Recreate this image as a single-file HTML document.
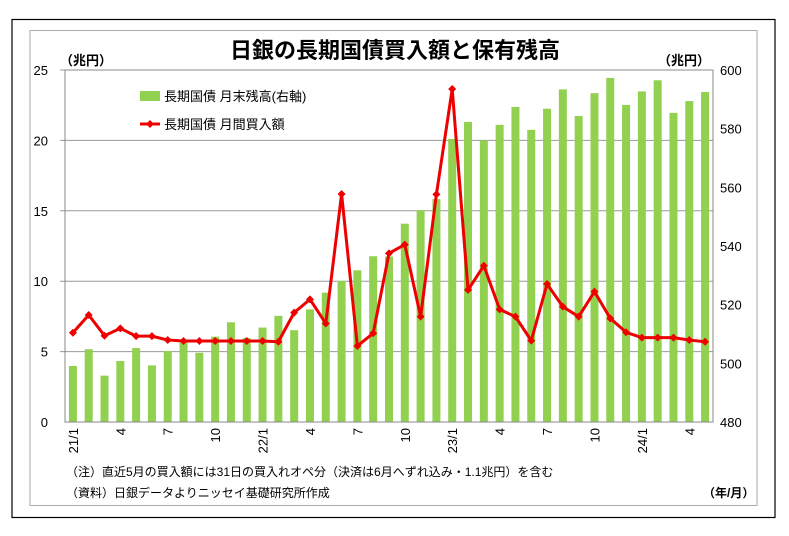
<!DOCTYPE html>
<html><head><meta charset="utf-8"><style>
body{margin:0;background:#fff;}
svg text{font-family:"Liberation Sans","Noto Sans CJK JP",sans-serif;}
</style></head><body>
<svg width="789" height="531" viewBox="0 0 789 531">
<rect x="12" y="19.5" width="763" height="498" fill="#fff" stroke="#000" stroke-width="1.2"/>
<rect x="30" y="30.5" width="727" height="475" fill="#fff" stroke="#aaa" stroke-width="1"/>
<text x="395" y="58" font-size="22" font-weight="bold" text-anchor="middle" fill="#000">日銀の長期国債買入額と保有残高</text>
<text x="60" y="65" font-size="13" font-weight="bold" fill="#000">（兆円）</text>
<text x="658" y="65" font-size="13" font-weight="bold" fill="#000">（兆円）</text>
<g id="grid"></g>
<g id="bars"></g>
<g id="line"></g>
<g id="axes"></g>
<rect x="140" y="91" width="20" height="10" fill="#92d050"/>
<text x="164" y="101" font-size="13">長期国債  月末残高(右軸)</text>
<line x1="140" y1="124" x2="160" y2="124" stroke="#e00" stroke-width="3"/>
<path d="M150 120 L154 124 L150 128 L146 124Z" fill="#e00"/>
<text x="164" y="129" font-size="13">長期国債  月間買入額</text>
<text x="66" y="476" font-size="12" fill="#000">（注）直近5月の買入額には31日の買入れオペ分（決済は6月へずれ込み・1.1兆円）を含む</text>
<text x="66" y="497" font-size="12" fill="#000">（資料）日銀データよりニッセイ基礎研究所作成</text>
<text x="703" y="497" font-size="12" font-weight="bold">（年/月）</text>
</svg>
<script>
const holdings=[499.1,504.8,495.8,500.8,505.2,499.3,504.2,508,503.6,509.1,514,508.6,512.2,516.2,511.3,518.4,524.1,528.1,531.7,536.5,536.4,547.6,552.2,556,576.5,582.3,576,581.3,587.4,579.6,586.8,593.4,584.3,592.1,597.3,588.1,592.7,596.5,585.4,589.4,592.5];
const purchases=[6.34,7.6,6.13,6.65,6.1,6.1,5.82,5.75,5.75,5.75,5.75,5.75,5.75,5.7,7.77,8.71,7.0,16.19,5.4,6.3,11.98,12.6,7.48,16.17,23.65,9.38,11.1,8.0,7.48,5.78,9.8,8.19,7.48,9.26,7.36,6.37,5.99,5.99,5.99,5.82,5.7];
const xLabels=["21/1","","","4","","","7","","","10","","","22/1","","","4","","","7","","","10","","","23/1","","","4","","","7","","","10","","","24/1","","","4",""];
const leftTicks=[0,5,10,15,20,25];
const rightTicks=[480,500,520,540,560,580,600];
const NS="http://www.w3.org/2000/svg";
const X0=65,X1=713,Y0=422,Y1=70;
const n=holdings.length, step=(X1-X0)/n;
const xPos=i=>X0+step*(i+0.5);
const yL=v=>Y0-(v/25)*(Y0-Y1);
const yR=v=>Y0-((v-480)/120)*(Y0-Y1);
function mk(tag,attrs,parent){const e=document.createElementNS(NS,tag);for(const k in attrs)e.setAttribute(k,attrs[k]);document.getElementById(parent).appendChild(e);return e;}
leftTicks.forEach(t=>{
  if(t>0){const g=mk('line',{x1:X0-5,x2:X1,y1:yL(t),y2:yL(t),stroke:'#999','stroke-width':1},'grid');
  
  }
  const tx=mk('text',{x:48,y:yL(t)+5,'font-size':13,'text-anchor':'end'},'axes');tx.textContent=t;
  
  
});
rightTicks.forEach(t=>{
  const tx=mk('text',{x:720,y:yR(t)+5,'font-size':13},'axes');tx.textContent=t;
  
  
});
const fr=mk('rect',{x:X0,y:Y1,width:X1-X0,height:Y0-Y1,fill:'none',stroke:'#888'},'axes');


holdings.forEach((v,i)=>{
  const r=mk('rect',{x:xPos(i)-4,y:yR(v),width:8,height:Y0-yR(v),fill:'#92d050'},'bars');
  
  
});
const pts=purchases.map((v,i)=>xPos(i)+','+yL(v)).join(' ');
const pl=mk('polyline',{points:pts,fill:'none',stroke:'#e00','stroke-width':3,'stroke-linejoin':'round'},'line');


purchases.forEach((v,i)=>{
  const x=xPos(i),y=yL(v);
  const m=mk('path',{d:`M${x} ${y-4}L${x+4} ${y}L${x} ${y+4}L${x-4} ${y}Z`,fill:'#e00'},'line');
  
  
});
xLabels.forEach((l,i)=>{
  if(!l)return;
  const x=xPos(i);
  const t=mk('text',{x:0,y:0,'font-size':13,'text-anchor':'end',transform:`translate(${x+5},${Y0+6}) rotate(-90)`},'axes');
  t.textContent=l;
  
  
});
</script>
</body></html>
